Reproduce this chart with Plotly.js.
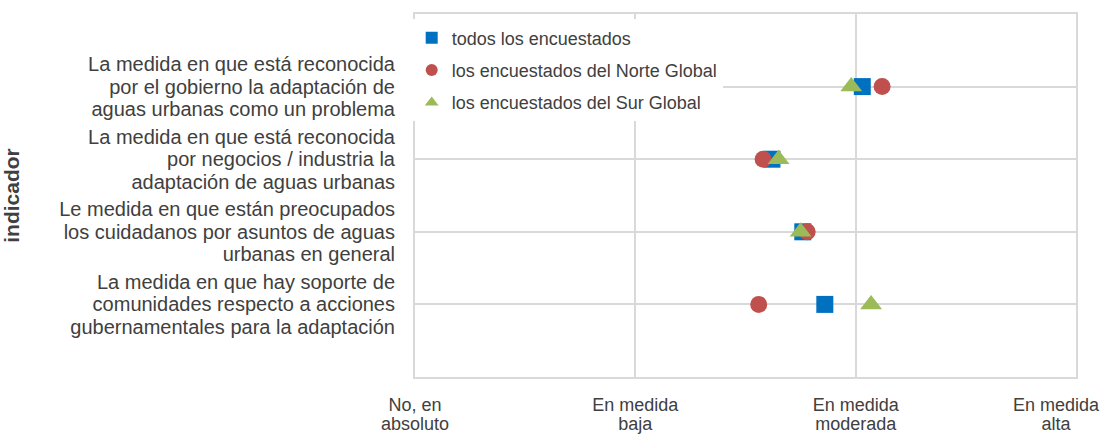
<!DOCTYPE html>
<html>
<head>
<meta charset="utf-8">
<script src="https://cdn.plot.ly/plotly-3.0.1.min.js"></script>
<style>html,body{margin:0;padding:0;background:#fff;}#chart{width:1104px;height:435px;}</style>
</head>
<body>
<div id="chart"></div>
<script>
// Indicators, top to bottom
const indicators = [
  "La medida en que está reconocida<br>por el gobierno la adaptación de<br>aguas urbanas como un problema",
  "La medida en que está reconocida<br>por negocios / industria la<br>adaptación de aguas urbanas",
  "Le medida en que están preocupados<br>los cuidadanos por asuntos de aguas<br>urbanas en general",
  "La medida en que hay soporte de<br>comunidades respecto a acciones<br>gubernamentales para la adaptación"
];
const seriesNames = ["todos los encuestados", "los encuestados del Norte Global", "los encuestados del Sur Global"];
const todos = [2.03, 1.62, 1.76, 1.86];
const norte = [2.12, 1.58, 1.78, 1.56];
const sur   = [1.98, 1.65, 1.75, 2.07];
const scaleValues = [0, 1, 2, 3];
const scaleLabels = ["No, en<br>absoluto", "En medida<br>baja", "En medida<br>moderada", "En medida<br>alta"];

const font = "Liberation Sans, Arial, sans-serif";
const txt = "#404040";
const grid = "#d9d9d9";

const traces = [
  {x: todos, y: indicators, name: seriesNames[0], legendgroup: "a", type: "scatter", mode: "markers",
   marker: {symbol: "square", size: 17, color: "#0070C0"}},
  {x: norte, y: indicators, name: seriesNames[1], legendgroup: "b", type: "scatter", mode: "markers",
   marker: {symbol: "circle", size: 17, color: "#C0504D"}},
  {x: sur, y: indicators, name: seriesNames[2], legendgroup: "c", type: "scatter", mode: "markers",
   marker: {symbol: "triangle-up", size: 19, color: "#9BBB59"}}
];

const layout = {
  width: 1104, height: 435,
  margin: {l: 415, r: 28, t: 14, b: 58},
  paper_bgcolor: "#fff", plot_bgcolor: "#fff",
  font: {family: font, color: txt, size: 18},
  showlegend: true,
  legend: {x: -0.005, y: 0.985, xanchor: "left", yanchor: "top", bgcolor: "#ffffff",
           font: {family: font, size: 18, color: txt}, tracegroupgap: 6, itemsizing: "constant"},
  xaxis: {range: [0, 3], tickvals: scaleValues, ticktext: scaleLabels, showgrid: true,
          gridcolor: grid, gridwidth: 2, zeroline: false, showline: true, linecolor: grid,
          linewidth: 2, mirror: true, ticks: "", ticklabelstandoff: 10, ticklabeloverflow: "allow",
          tickfont: {family: font, size: 18, color: txt}},
  yaxis: {type: "category", categoryorder: "array", categoryarray: indicators.slice().reverse(),
          range: [-1, 4], showgrid: true, gridcolor: grid, gridwidth: 2, zeroline: false,
          showline: true, linecolor: grid, linewidth: 2, mirror: true, ticks: "",
          ticklabelstandoff: 14, tickfont: {family: font, size: 20, color: txt},
          title: {text: "<b>indicador</b>", standoff: 34, font: {family: font, size: 21, color: txt}}}
};

// Tighter line spacing for multi-line tick labels (Plotly default is 1.3em)
function tighten(sel, factor, center) {
  document.querySelectorAll(sel).forEach(function (t) {
    const lines = t.querySelectorAll("tspan.line");
    const n = lines.length;
    if (n < 2) return;
    const off = center ? (n - 1) * (1.3 - factor) / 2 : 0;
    lines.forEach(function (l, i) { l.setAttribute("dy", (i * factor + off) + "em"); });
  });
}

// Keep tick labels inside the page, as the original chart does
function keepInside(sel, pageWidth, pad) {
  document.querySelectorAll(sel).forEach(function (t) {
    const b = t.getBBox();
    const ctm = t.getCTM();
    const right = ctm.e + b.x + b.width;
    if (right > pageWidth - pad) {
      const dx = right - (pageWidth - pad);
      const prev = t.getAttribute("transform") || "";
      t.setAttribute("transform", "translate(" + (-dx) + ",0) " + prev);
    }
  });
}

Plotly.newPlot("chart", traces, layout, {displayModeBar: false, staticPlot: true}).then(function () {
  tighten(".yaxislayer-above .ytick text", 1.12, true);
  tighten(".xaxislayer-above .xtick text", 1.1, false);
  keepInside(".xaxislayer-above .xtick text", 1104, 4);
});
</script>
</body>
</html>
